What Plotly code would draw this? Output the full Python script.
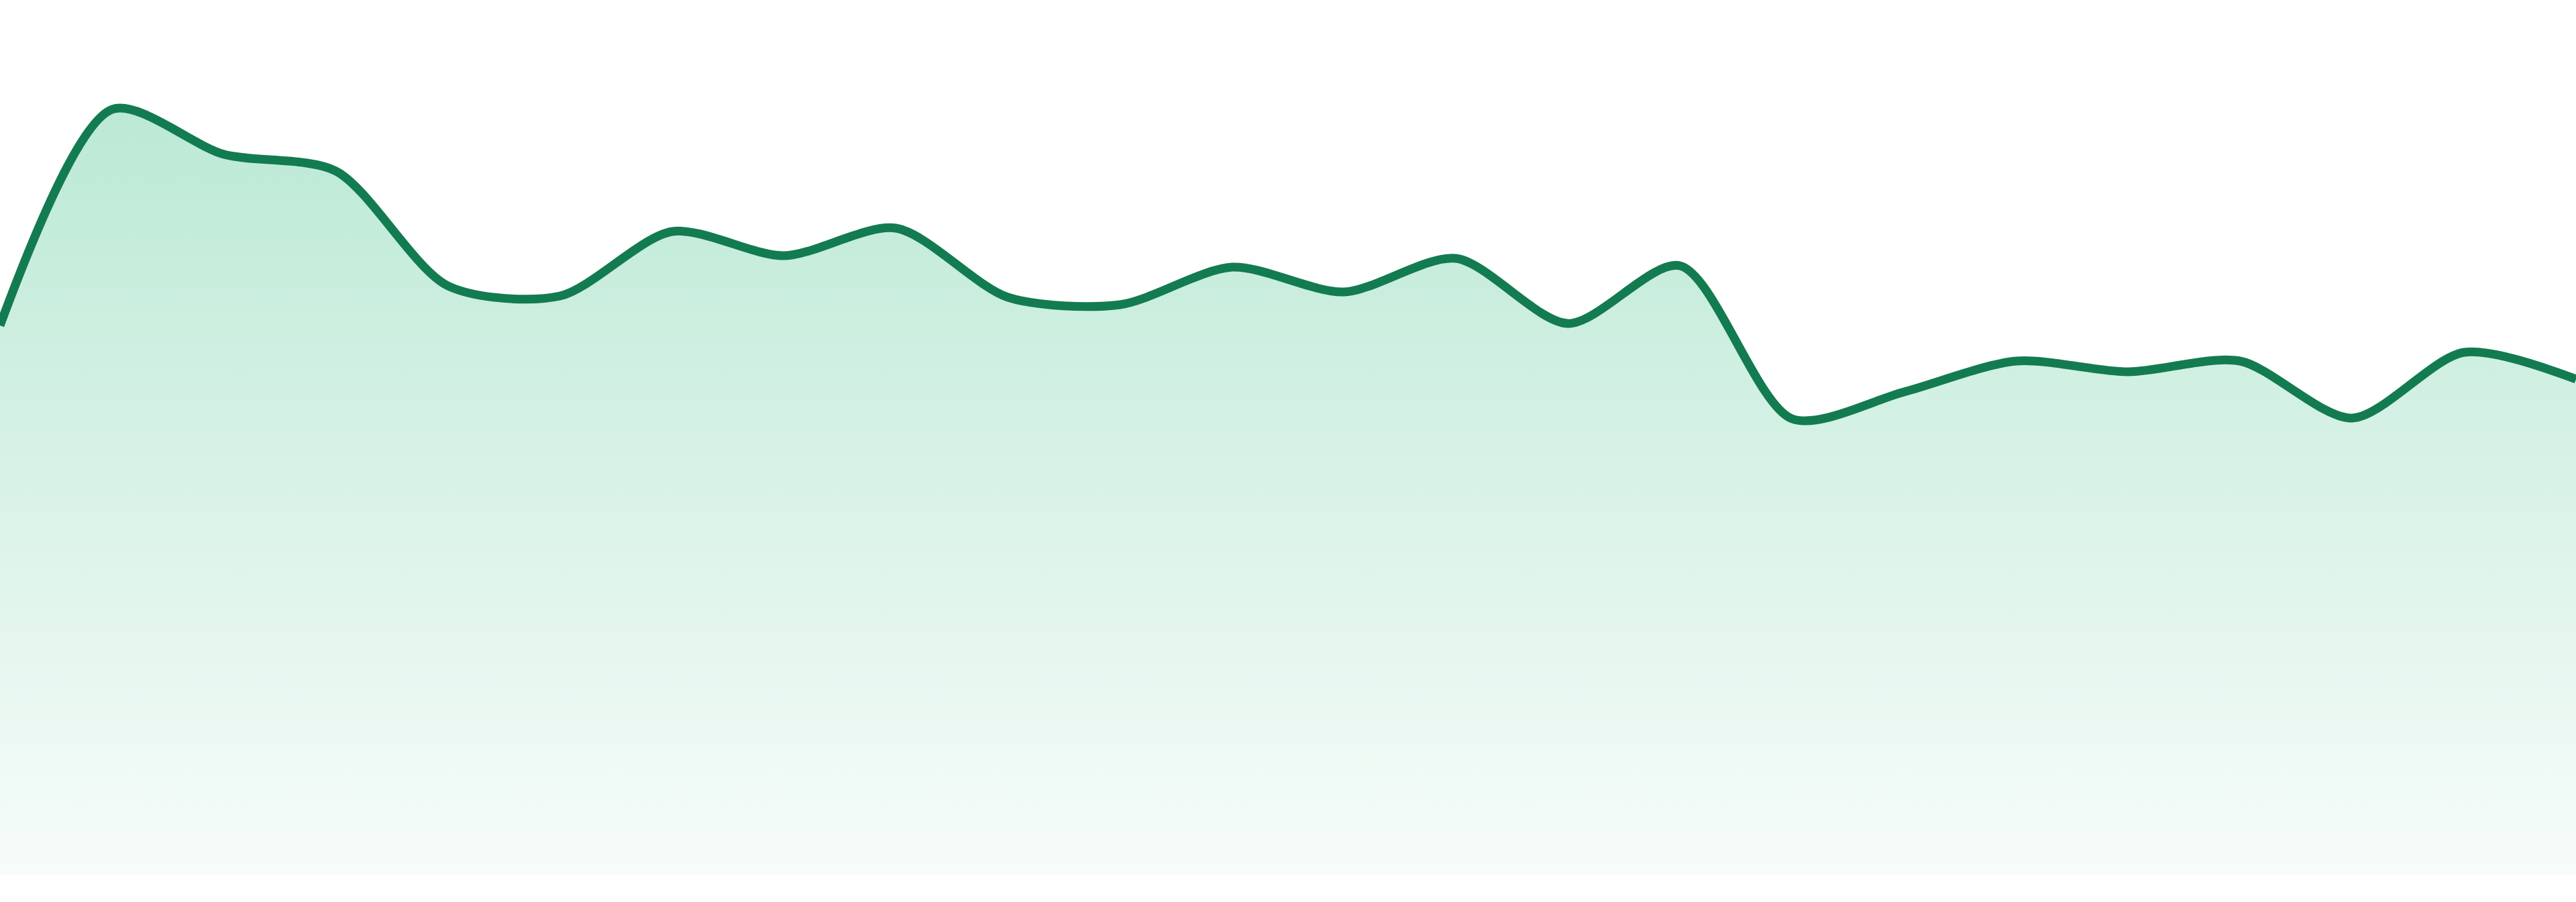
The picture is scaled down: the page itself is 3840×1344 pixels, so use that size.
import plotly.graph_objects as go

# one reading per step, left to right
steps = list(range(24))
values = [818, 1140, 1073, 1048, 877, 862, 958, 922, 963, 860, 849, 905,
          868, 918, 821, 907, 679, 719, 765, 749, 765, 680, 778, 738]

line_color = "#137b50"
fill_bottom = "#f7fcfa"
fill_top = "#bbe9d5"

fig = go.Figure()
fig.add_trace(go.Scatter(
    x=steps,
    y=values,
    mode="lines",
    line=dict(color=line_color, width=13, shape="spline", smoothing=0.8),
    fill="tozeroy",
    fillgradient=dict(type="vertical",
                      colorscale=[[0, fill_bottom], [1, fill_top]]),
    hoverinfo="skip",
    showlegend=False,
))

fig.update_layout(
    width=3840,
    height=1344,
    margin=dict(l=0, r=0, t=0, b=41),
    paper_bgcolor="white",
    plot_bgcolor="white",
    xaxis=dict(range=[0, 23], visible=False, fixedrange=True),
    yaxis=dict(range=[0, 1303], visible=False, fixedrange=True),
)

# drop the page's default body margin so the chart sits flush
fig.write_html("out.html",
               config={"displayModeBar": False, "responsive": False},
               post_script="document.body.style.margin='0';")
